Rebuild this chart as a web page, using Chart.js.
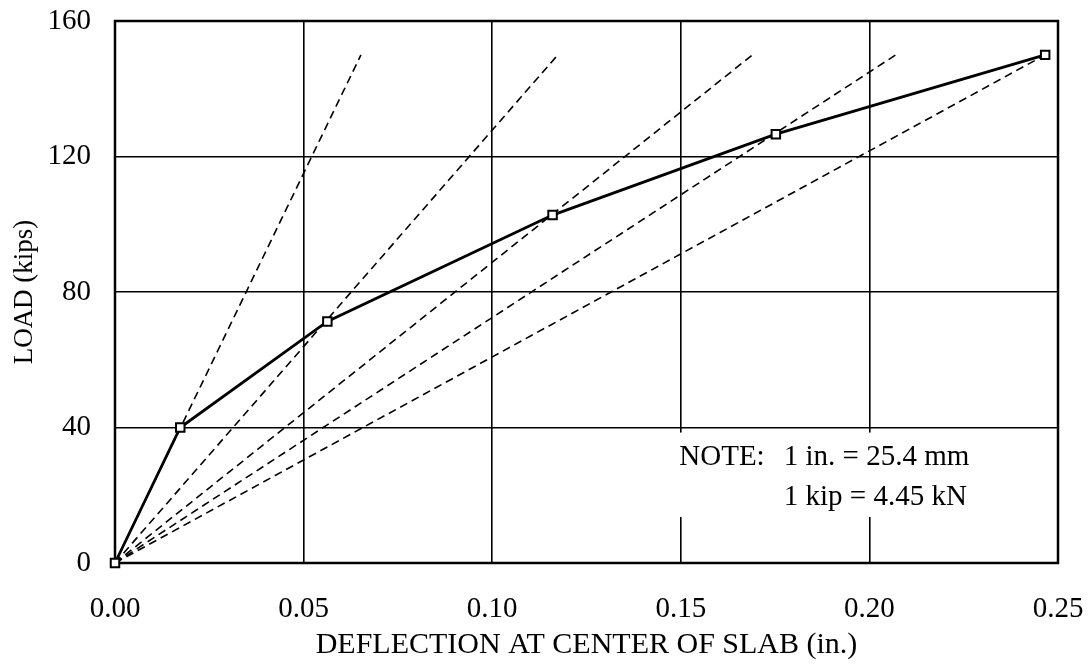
<!DOCTYPE html>
<html>
<head>
<meta charset="utf-8">
<script src="https://cdn.jsdelivr.net/npm/chart.js@4.4.1/dist/chart.umd.min.js"></script>
<style>
  html, body { margin: 0; padding: 0; background: #fff; }
  #wrap { width: 1091px; height: 664px; }
</style>
</head>
<body>
<div id="wrap"><canvas id="c" width="1091" height="664"></canvas></div>
<script>
// Measured curve: deflection (in.) vs load (kips)
const deflection = [0.000, 0.0173, 0.0563, 0.1160, 0.1752, 0.2466];
const load       = [0, 40.0, 71.3, 102.7, 126.6, 150.0];
// Secant (dashed) lines from the origin through each point, ending at load 150
const secantEndX = [0.0652, 0.1174, 0.1690, 0.2070, 0.2466];
const secantEndY = 150;
const xTicks = [0.00, 0.05, 0.10, 0.15, 0.20, 0.25];
const yTicks = [0, 40, 80, 120, 160];
const noteLabel = 'NOTE:';
const noteLines = ['1 in. = 25.4 mm', '1 kip = 4.45 kN'];

const FONT = '"Liberation Serif", "Times New Roman", serif';

const datasets = [];
secantEndX.forEach((ex) => {
  datasets.push({
    data: [{x: 0, y: 0}, {x: ex, y: secantEndY}],
    showLine: true,
    borderColor: '#000',
    borderWidth: 1.6,
    borderDash: [8, 5],
    pointRadius: 0,
    fill: false,
    order: 2
  });
});
datasets.push({
  data: deflection.map((d, i) => ({x: d, y: load[i]})),
  showLine: true,
  borderColor: '#000',
  borderWidth: 2.8,
  pointStyle: 'rect',
  pointRadius: 6,
  pointBorderWidth: 2,
  pointBackgroundColor: '#fff',
  pointBorderColor: '#000',
  fill: false,
  clip: 10,
  order: 1
});

function zeroPad(s) {
  s.paddingTop = 0; s.paddingBottom = 0; s.paddingLeft = 0; s.paddingRight = 0;
}

const notePlugin = {
  id: 'notePlugin',
  beforeDatasetsDraw(chart) {
    const {ctx, scales: {x, y}, chartArea: a} = chart;
    ctx.save();
    // gap in the vertical gridlines around the note
    ctx.fillStyle = '#fff';
    ctx.fillRect(x.getPixelForValue(0.14), y.getPixelForValue(38.5),
                 x.getPixelForValue(0.245) - x.getPixelForValue(0.14),
                 y.getPixelForValue(13.6) - y.getPixelForValue(38.5));
    // plot frame
    ctx.strokeStyle = '#000';
    ctx.lineWidth = 2.5;
    ctx.strokeRect(a.left, a.top, a.right - a.left, a.bottom - a.top);
    ctx.restore();
  },
  afterDraw(chart) {
    const {ctx, scales: {x, y}} = chart;
    ctx.save();
    ctx.fillStyle = '#000';
    ctx.font = '29px ' + FONT;
    ctx.textBaseline = 'alphabetic';
    ctx.textAlign = 'left';
    ctx.fillText(noteLabel, x.getPixelForValue(0.1496), y.getPixelForValue(28.8));
    ctx.fillText(noteLines[0], x.getPixelForValue(0.1773), y.getPixelForValue(28.8));
    ctx.fillText(noteLines[1], x.getPixelForValue(0.1773), y.getPixelForValue(17.0));
    ctx.restore();
  }
};

new Chart(document.getElementById('c'), {
  type: 'scatter',
  data: { datasets },
  options: {
    responsive: false,
    animation: false,
    layout: { padding: { top: 21, right: 33, left: 0, bottom: 0 } },
    plugins: { legend: { display: false }, tooltip: { enabled: false } },
    scales: {
      x: {
        type: 'linear',
        min: 0, max: 0.25,
        afterBuildTicks(s) { s.ticks = xTicks.map(v => ({value: v})); },
        afterFit(s) { s.height = 101; zeroPad(s); },
        ticks: {
          color: '#000',
          font: { family: FONT, size: 29 },
          padding: 29,
          maxRotation: 0,
          callback: v => v.toFixed(2)
        },
        grid: { color: '#000', lineWidth: 1.6, drawTicks: false },
        border: { display: false },
        title: {
          display: true,
          text: 'DEFLECTION AT CENTER OF SLAB (in.)',
          color: '#000',
          font: { family: FONT, size: 30 },
          padding: { top: 0, bottom: 1 }
        }
      },
      y: {
        type: 'linear',
        min: 0, max: 160,
        afterBuildTicks(s) { s.ticks = yTicks.map(v => ({value: v})); },
        afterFit(s) { s.width = 115; zeroPad(s); },
        ticks: {
          color: '#000',
          font: { family: FONT, size: 29 },
          padding: 24,
          callback: v => String(v)
        },
        grid: { color: '#000', lineWidth: 1.6, drawTicks: false },
        border: { display: false },
        title: {
          display: true,
          text: 'LOAD (kips)',
          color: '#000',
          font: { family: FONT, size: 27 },
          padding: { top: 9, bottom: 0 }
        }
      }
    }
  },
  plugins: [notePlugin]
});
</script>
</body>
</html>
